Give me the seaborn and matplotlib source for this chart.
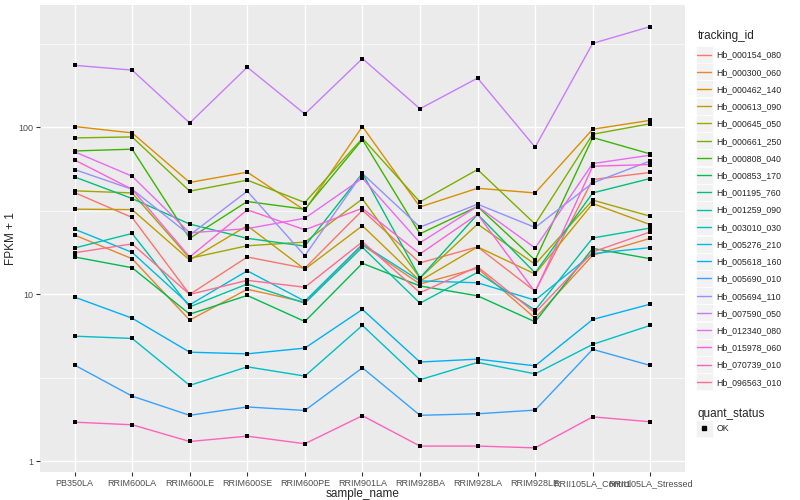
import pandas as pd
import seaborn as sns
import matplotlib.pyplot as plt
from matplotlib.lines import Line2D
from matplotlib.patches import Rectangle
from matplotlib.ticker import FixedLocator, NullFormatter

# samples along the x axis
sample_names = ['PB350LA', 'RRIM600LA', 'RRIM600LE', 'RRIM600SE', 'RRIM600PE',
                'RRIM901LA', 'RRIM928BA', 'RRIM928LA', 'RRIM928LE',
                'RRII105LA_Control', 'RRII105LA_Stressed']

tracking_ids = ['Hb_000154_080', 'Hb_000300_060', 'Hb_000462_140', 'Hb_000613_090',
                'Hb_000645_050', 'Hb_000661_250', 'Hb_000808_040', 'Hb_000853_170',
                'Hb_001195_760', 'Hb_001259_090', 'Hb_003010_030', 'Hb_005276_210',
                'Hb_005618_160', 'Hb_005690_010', 'Hb_005694_110', 'Hb_007590_050',
                'Hb_012340_080', 'Hb_015978_060', 'Hb_070739_010', 'Hb_096563_010']

# FPKM + 1 per gene, one value per sample
hb_000154_080 = [40.6, 28.8, 9.96, 16.7, 14.3, 31.8, 15.4, 19.2, 10.4, 48.6, 53.6]
hb_000300_060 = [22.6, 16.3, 6.99, 10.7, 8.96, 19.7, 11.5, 14.3, 7.18, 17.1, 21.6]
hb_000462_140 = [101, 92.5, 46.7, 53.8, 31.8, 101, 33.3, 43.1, 40.4, 97.3, 110]
hb_000613_090 = [32.3, 32.1, 16.0, 25.7, 14.1, 25.7, 12.0, 19.2, 13.2, 34.9, 26.1]
hb_000645_050 = [41.6, 40.4, 16.4, 19.5, 20.5, 37.2, 12.5, 26.3, 15.1, 36.6, 29.3]
hb_000661_250 = [86.3, 87.5, 41.4, 48.2, 35.4, 85.9, 35.7, 55.8, 26.3, 90.8, 105]
hb_000808_040 = [72.1, 73.9, 21.6, 35.9, 32.3, 84.4, 23.0, 33.5, 16.0, 86.8, 69.2]
hb_000853_170 = [16.7, 14.4, 7.59, 9.82, 6.86, 15.3, 11.2, 9.77, 6.83, 18.8, 16.3]
hb_001195_760 = [50.4, 37.4, 26.3, 21.6, 19.4, 53.0, 12.5, 30.1, 13.4, 40.4, 49.3]
hb_001259_090 = [18.9, 23.1, 8.39, 11.5, 8.83, 19.1, 8.83, 13.5, 8.02, 21.7, 24.9]
hb_003010_030 = [5.6, 5.43, 2.84, 3.67, 3.23, 6.5, 3.07, 3.9, 3.33, 5.0, 6.5]
hb_005276_210 = [24.5, 17.8, 8.63, 13.8, 9.08, 19.9, 12.0, 11.7, 9.2, 17.5, 19.0]
hb_005618_160 = [9.6, 7.18, 4.49, 4.39, 4.75, 8.1, 3.92, 4.08, 3.72, 7.05, 8.71]
hb_005690_010 = [3.76, 2.45, 1.88, 2.11, 2.01, 3.62, 1.88, 1.92, 2.02, 4.67, 3.74]
hb_005694_110 = [55.8, 42.5, 22.6, 41.4, 17.0, 52.8, 25.2, 34.6, 25.1, 46.4, 62.8]
hb_007590_050 = [235, 220, 106, 229, 120, 258, 129, 197, 76, 318, 401]
hb_012340_080 = [71.3, 50.9, 23.3, 24.7, 28.5, 49.5, 20.3, 33.6, 18.9, 60.6, 68.0]
hb_015978_060 = [63.7, 42.5, 16.7, 32.0, 24.3, 32.7, 17.4, 30.1, 10.3, 58.4, 59.8]
hb_070739_010 = [1.71, 1.65, 1.31, 1.41, 1.27, 1.87, 1.23, 1.23, 1.20, 1.84, 1.72]
hb_096563_010 = [17.7, 20.0, 9.96, 12.1, 11.0, 20.6, 10.2, 14.6, 7.73, 17.9, 23.6]

gene_values = [hb_000154_080, hb_000300_060, hb_000462_140, hb_000613_090,
               hb_000645_050, hb_000661_250, hb_000808_040, hb_000853_170,
               hb_001195_760, hb_001259_090, hb_003010_030, hb_005276_210,
               hb_005618_160, hb_005690_010, hb_005694_110, hb_007590_050,
               hb_012340_080, hb_015978_060, hb_070739_010, hb_096563_010]

# ggplot default hue palette for 20 levels
palette = ['#F8766D', '#EA8331', '#D89000', '#C09B00', '#A3A500', '#7CAE00',
           '#39B600', '#00BB4E', '#00BF7D', '#00C1A3', '#00BFC4', '#00BAE0',
           '#00B0F6', '#35A2FF', '#9590FF', '#C77CFF', '#E76BF3', '#FA62DB',
           '#FF62BC', '#FF6C91']

rows = []
for tid, vals in zip(tracking_ids, gene_values):
    for s, v in zip(sample_names, vals):
        rows.append({'tracking_id': tid, 'sample_name': s, 'fpkm': v, 'quant_status': 'OK'})
df = pd.DataFrame(rows)
df['sample_name'] = pd.Categorical(df['sample_name'], categories=sample_names, ordered=True)

sns.set_theme(style='darkgrid', rc={'axes.facecolor': '#EBEBEB', 'grid.color': 'white',
                                    'figure.facecolor': 'white'})
plt.rcParams['font.family'] = ['Liberation Sans', 'DejaVu Sans']

fig = plt.figure(figsize=(8, 5), dpi=100)
ax = fig.add_axes([0.05, 0.056, 0.806, 0.934])

sns.lineplot(data=df, x='sample_name', y='fpkm', hue='tracking_id', hue_order=tracking_ids,
             palette=palette, sort=False, lw=1, legend=False, ax=ax, zorder=2)
sns.scatterplot(data=df, x='sample_name', y='fpkm', color='black', marker='s', s=10,
                linewidth=0, legend=False, ax=ax, zorder=3)

ax.set_yscale('log')
ax.set_ylim(0.86, 540)
ax.set_xlim(-0.6, len(sample_names) - 0.4)
ax.yaxis.set_major_locator(FixedLocator([1, 10, 100]))
ax.set_yticklabels(['1', '10', '100'])
ax.yaxis.set_minor_locator(FixedLocator([10 ** 0.5, 10 ** 1.5, 10 ** 2.5]))
ax.yaxis.set_minor_formatter(NullFormatter())
ax.grid(which='major', color='white', lw=1.0)
ax.grid(which='minor', axis='y', color='white', lw=0.5)
for sp in ax.spines.values():
    sp.set_visible(False)
ax.tick_params(axis='both', which='major', length=3, width=0.8, color='#333333',
               labelsize=6.5, labelcolor='#4D4D4D', pad=2, bottom=True, left=True)
ax.tick_params(axis='y', which='minor', length=0)
ax.set_xlabel('sample_name', fontsize=8.5, labelpad=0)
ax.set_ylabel('FPKM + 1', fontsize=8.5, labelpad=1)

# legends on the right
line_handles = [Line2D([], [], color=c, lw=1) for c in palette]
leg1 = fig.legend(line_handles, tracking_ids, loc='upper left', bbox_to_anchor=(0.862, 0.955),
                  frameon=False, title='tracking_id', fontsize=6.3, title_fontsize=8.5,
                  handlelength=1.6, handletextpad=0.6, labelspacing=0.94, alignment='left')
pt_handle = [Line2D([], [], color='black', marker='s', markersize=3, lw=0)]
leg2 = fig.legend(pt_handle, ['OK'], loc='upper left', bbox_to_anchor=(0.862, 0.2),
                  frameon=False, title='quant_status', fontsize=6.3, title_fontsize=8.5,
                  handlelength=1.6, handletextpad=0.6, alignment='left')

# grey key boxes behind the legend handles, like ggplot
fig.canvas.draw()
for leg in (leg1, leg2):
    for h in leg.legend_handles:
        bb = h.get_window_extent()
        cx, cy = (bb.x0 + bb.x1) / 2, (bb.y0 + bb.y1) / 2
        fig.patches.append(Rectangle((cx - 8.5, cy - 8.5), 17, 17, transform=None,
                                     facecolor='#F2F2F2', edgecolor='white', lw=0.5, zorder=0))

plt.savefig('out.png', dpi=100)
plt.close()
